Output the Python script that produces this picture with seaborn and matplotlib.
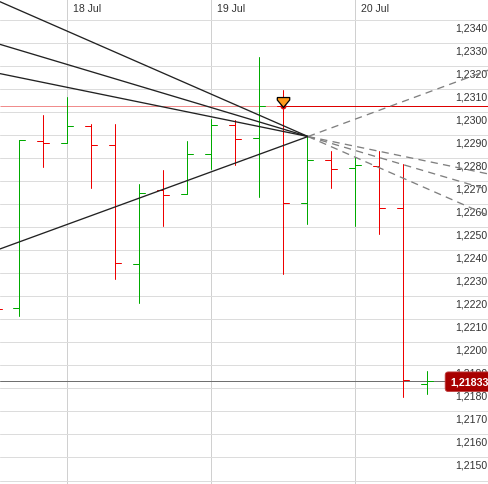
# grafico de barras OHLC con abanico de lineas de tendencia
import matplotlib
matplotlib.use("Agg")
import matplotlib.pyplot as plt
from matplotlib.transforms import ScaledTranslation
import pandas as pd
import seaborn as sns

# precios de cada barra, la primera apenas asoma por la izquierda
barra = list(range(-1, 18))
apertura = [1.22144, 1.22147, 1.22872, 1.22864, 1.22939, 1.22856, 1.22338, 1.22660, 1.22642,
            1.22816, 1.22942, 1.22885, 1.23024, 1.22603, 1.22790, 1.22755, 1.22764, 1.22581, 1.21818]
maximo = [1.22144, 1.22878, 1.22986, 1.23065, 1.22947, 1.22947, 1.22686, 1.22748, 1.22872,
          1.22969, 1.22965, 1.23239, 1.23095, 1.22894, 1.22831, 1.22803, 1.22831, 1.22774, 1.21874]
minimo = [1.22144, 1.22114, 1.22762, 1.22864, 1.22671, 1.22273, 1.22172, 1.22506, 1.22642,
          1.22752, 1.22768, 1.22632, 1.22295, 1.22512, 1.22671, 1.22506, 1.22471, 1.21761, 1.21777]
cierre = [1.22144, 1.22877, 1.22864, 1.22939, 1.22856, 1.22343, 1.22648, 1.22638, 1.22816,
          1.22942, 1.22881, 1.23024, 1.22603, 1.22790, 1.22751, 1.22769, 1.22581, 1.21835, 1.21833]
sube = [False, True, False, True, False, False, True, False, True,
        True, False, True, False, True, False, True, False, False, True]

# lineas de tendencia: extremo izquierdo, punto de cruce y extremo derecho
x_lineas = [-0.8125, 12.02, 19.56]
abanico = [[1.23478, 1.22893, 1.22549],
           [1.23293, 1.22893, 1.22661],
           [1.23166, 1.22893, 1.22730],
           [1.22405, 1.22893, 1.23182]]

precio_guia = 1.23024
x_guia = 11
ultimo = 1.21833
ultimo_txt = "1,21833"
precio_flecha = 1.23042

precios_grid = [1.2140 + 0.001 * i for i in range(21)]
etiquetas_y = ["", "1,2150", "1,2160", "1,2170", "1,2180", "1,2190", "1,2200", "1,2210",
               "1,2220", "1,2230", "1,2240", "1,2250", "1,2260", "1,2270", "1,2280",
               "1,2290", "1,2300", "1,2310", "1,2320", "1,2330", "1,2340"]
dias = [2, 8, 14]
etiquetas_x = ["18 Jul", "19 Jul", "20 Jul"]

sns.set_theme(style="whitegrid")
plt.rcParams["font.family"] = ["Liberation Sans", "DejaVu Sans"]
ROJO = "#ee0000"
VERDE = "#00aa00"
PALETA = {"sube": VERDE, "baja": ROJO}

fig = plt.figure(figsize=(4.89, 4.85), dpi=100)
ax = fig.add_axes([0, 0, 1, 1])
ax.set_axisbelow(True)

# armo los segmentos de cada barra: mecha, apertura a la izq, cierre a la der
filas = []
for i, b in enumerate(barra):
    tipo = "sube" if sube[i] else "baja"
    filas.append({"id": f"m{b}", "x": b, "y": maximo[i], "tipo": tipo})
    filas.append({"id": f"m{b}", "x": b, "y": minimo[i], "tipo": tipo})
    filas.append({"id": f"a{b}", "x": b - 0.25, "y": apertura[i], "tipo": tipo})
    filas.append({"id": f"a{b}", "x": b, "y": apertura[i], "tipo": tipo})
    filas.append({"id": f"c{b}", "x": b, "y": cierre[i], "tipo": tipo})
    filas.append({"id": f"c{b}", "x": b + 0.25, "y": cierre[i], "tipo": tipo})
df = pd.DataFrame(filas)

# lineas guia horizontales
ax.axhline(ultimo, color="#707070", lw=0.72, zorder=1.5)
ax.hlines(precio_guia, -0.8125, x_guia, color="#f08c8c", lw=0.72, zorder=1.6)
ax.hlines(precio_guia, x_guia, 19.56, color="#dd0000", lw=0.72, zorder=1.6)

sns.lineplot(data=df, x="x", y="y", hue="tipo", units="id", estimator=None, sort=False,
             palette=PALETA, lw=0.72, legend=False, ax=ax, zorder=2)

# abanico: parte solida hasta el cruce y punteada despues
for serie in abanico:
    sns.lineplot(x=x_lineas[:2], y=serie[:2], color="#222222", lw=0.95, sort=False,
                 estimator=None, ax=ax, zorder=3)
    sns.lineplot(x=x_lineas[1:], y=serie[1:], color="#808080", lw=0.95, sort=False,
                 estimator=None, ax=ax, zorder=3, linestyle=(0, (5.5, 4)))

# flecha naranja del punto de entrada
FLECHA = [(-1, 0.8), (1, 0.8), (1, 0.4), (0, -0.8), (-1, 0.4), (-1, 0.8)]
sns.scatterplot(x=[x_guia], y=[precio_guia], color="#e01010", s=18, linewidth=0, ax=ax, zorder=4)
sns.scatterplot(x=[x_guia], y=[precio_flecha], marker=FLECHA, color="#ff9a1a", s=80,
                edgecolor="black", linewidth=0.9, ax=ax, zorder=5)

ax.set_xlim(-0.8125, 19.5625)
ax.set_ylim(1.2340 - (485 - 20.7) / 23040, 1.2340 + 20.7 / 23040)
ax.set_xlabel("")
ax.set_ylabel("")
for lado in ax.spines.values():
    lado.set_visible(False)

ax.set_xticks(dias, etiquetas_x)
ax.set_yticks(precios_grid, etiquetas_y)
ax.grid(True, axis="y", color="#dcdcdc", lw=0.72)
ax.grid(True, axis="x", color="#d0d0d0", lw=0.72)
ax.tick_params(axis="both", length=0)
ax.tick_params(axis="x", top=True, bottom=False, labeltop=True, labelbottom=False,
               labelsize=7.6, labelcolor="#333333", pad=0)
ax.tick_params(axis="y", right=True, left=False, labelright=True, labelleft=False,
               labelsize=7.6, labelcolor="#333333", pad=-1)

# las etiquetas van adentro: las de precio abajo de su linea, las de dia a la derecha
baja_y = ScaledTranslation(0, -7.3 / 100, fig.dpi_scale_trans)
for t in ax.get_yticklabels():
    t.set_ha("right")
    t.set_va("center")
    t.set_transform(t.get_transform() + baja_y)
mueve_x = ScaledTranslation(6 / 100, -14 / 100, fig.dpi_scale_trans)
for t in ax.get_xticklabels():
    t.set_ha("left")
    t.set_transform(t.get_transform() + mueve_x)

# etiqueta del ultimo precio
ax.annotate(ultimo_txt, xy=(450 / 489, ultimo), xycoords=("axes fraction", "data"),
            xytext=(0, -1), textcoords="offset pixels", ha="left", va="center",
            color="white", fontsize=7.7, fontweight="bold", zorder=6,
            bbox=dict(boxstyle="round,pad=0.45,rounding_size=0.3", fc="#a80000", ec="#c04040", lw=0.6))

fig.savefig("out.png", dpi=100)
